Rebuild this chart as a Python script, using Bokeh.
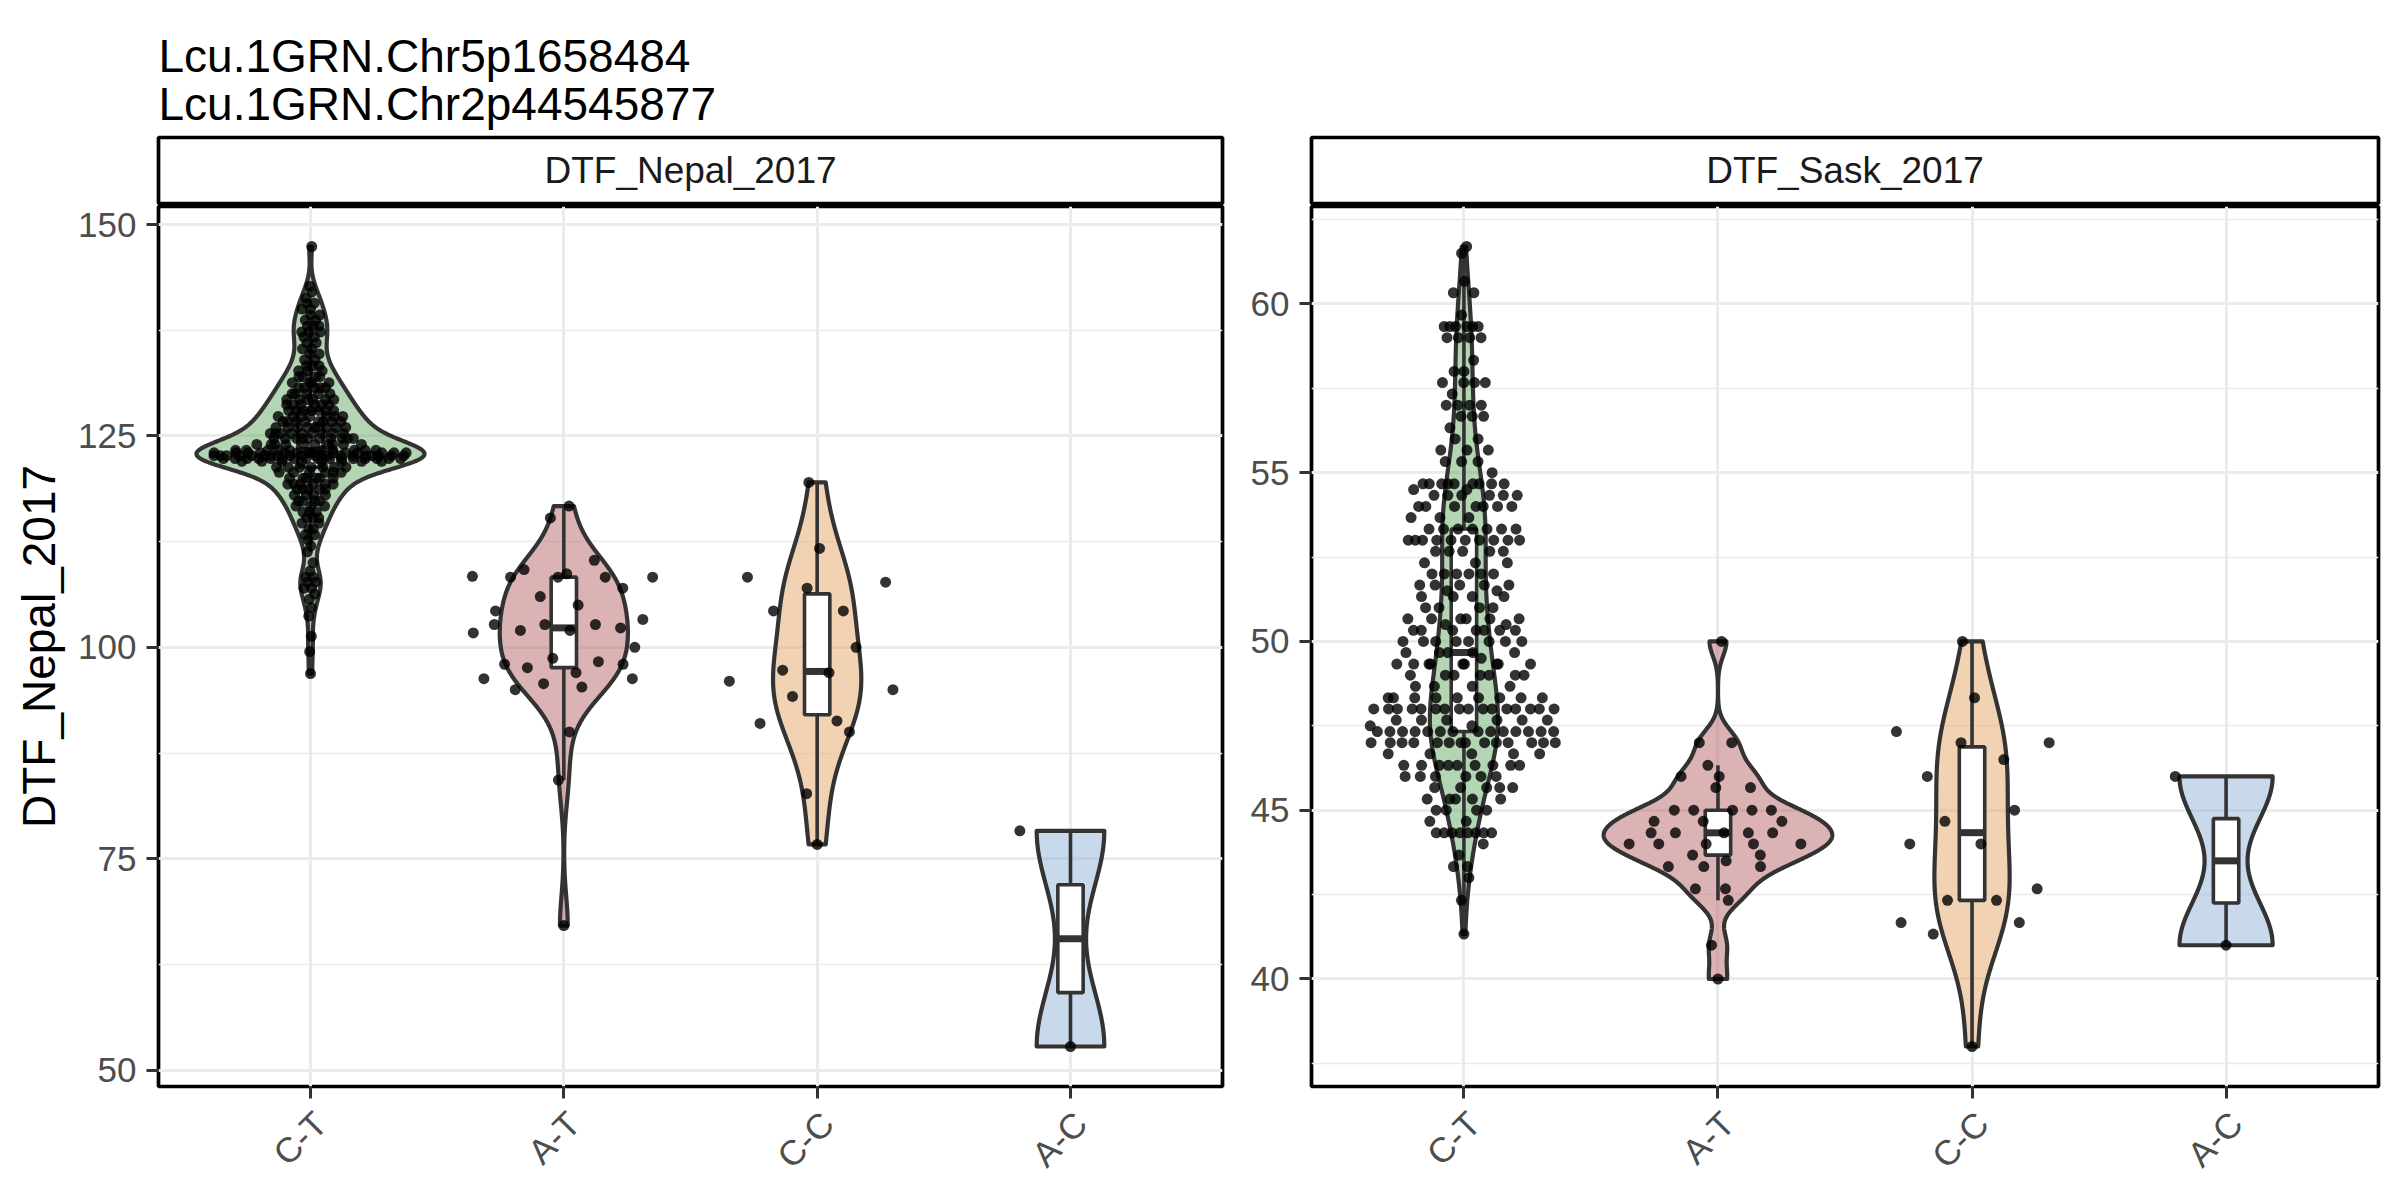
import numpy as np
from bokeh.plotting import figure
from bokeh.models import Range1d, FixedTicker, ColumnDataSource, LinearAxis, CustomJSTickFormatter
from bokeh.layouts import column, row
from bokeh.embed import file_html
from bokeh.resources import INLINE
from bokeh.core.properties import value

FONT = "Liberation Sans"

# ---------------- data ----------------
TITLE_LINES = ["Lcu.1GRN.Chr5p1658484", "Lcu.1GRN.Chr2p44545877"]
GENOTYPES = ["C-T", "A-T", "C-C", "A-C"]
FILL_COLORS = ["#69AB69", "#B76769", "#E3A565", "#8FB3D5"]
PANEL_NAMES = ["DTF_Nepal_2017", "DTF_Sask_2017"]
Y_LABEL = "DTF_Nepal_2017"

NEPAL_MAJOR = [50, 75, 100, 125, 150]
NEPAL_MINOR = [62.5, 87.5, 112.5, 137.5]
SASK_MAJOR = [40, 45, 50, 55, 60]
SASK_MINOR = [37.5, 42.5, 47.5, 52.5, 57.5, 62.5]

# Nepal 2017, C-T (value, count)
nepal_ct_values = [96.9, 99.5, 101.3, 103.7, 104.7, 105.7, 106.3, 107.0, 107.7, 108.3,
                   109.0, 110.0, 111.3, 112.0, 112.7, 113.3, 114.0, 114.7, 115.3, 116.0,
                   116.7, 117.3, 118.0, 118.7, 119.3, 120.0, 120.7, 121.3, 122.0, 122.33,
                   122.67, 123.0, 123.3, 124.0, 124.7, 125.3, 126.0, 126.7, 127.3, 128.0,
                   128.7, 129.3, 130.0, 130.7, 131.3, 132.0, 132.7, 133.3, 134.0, 134.7,
                   135.3, 136.0, 136.7, 137.3, 138.0, 138.7, 139.3, 140.0, 140.7, 141.3,
                   142.0, 142.7, 147.4]
nepal_ct_counts = [1, 1, 1, 1, 1, 1, 1, 2, 2, 2,
                   1, 1, 1, 1, 1, 2, 2, 2, 3, 3,
                   3, 4, 4, 5, 6, 6, 6, 7, 8, 16,
                   20, 14, 10, 10, 10, 9, 9, 8, 7, 7,
                   6, 6, 5, 5, 4, 4, 3, 3, 2, 2,
                   2, 2, 2, 3, 3, 2, 2, 2, 2, 1,
                   1, 1, 1]
nepal_at = [116.7, 115.3, 110.3, 109.2, 108.3, 108.3, 108.4, 108.7, 108.3, 108.3,
            107.0, 106.0, 105.0, 104.3, 103.3, 102.7, 102.7, 102.7, 102.0, 102.0,
            102.3, 101.7, 100.0, 98.7, 98.3, 98.0, 97.6, 98.0, 97.0, 96.3,
            96.3, 95.7, 95.0, 95.3, 90.0, 84.3, 67.1]
nepal_cc = [119.5, 111.7, 108.3, 107.7, 107.0, 104.3, 104.3, 100.0, 97.3, 97.0,
            96.0, 95.0, 94.2, 91.0, 91.3, 90.0, 82.7, 76.7]
nepal_ac = [78.3, 52.8]

# Sask 2017, C-T (value, count)
sask_ct_values = [61.7, 61.5, 60.67, 60.33, 59.67, 59.33, 59.0, 58.33, 58.0, 57.67,
                  57.33, 57.0, 56.67, 56.33, 56.0, 55.67, 55.33, 55.0, 54.67, 54.5,
                  54.33, 54.0, 53.67, 53.33, 53.0, 52.67, 52.33, 52.0, 51.67, 51.5,
                  51.33, 51.0, 50.67, 50.5, 50.33, 50.0, 49.67, 49.5, 49.33, 49.0,
                  48.67, 48.33, 48.0, 47.67, 47.5, 47.33, 47.0, 46.67, 46.33, 46.0,
                  45.67, 45.33, 45.0, 44.67, 44.33, 44.0, 43.67, 43.33, 43.0, 42.33, 41.33]
sask_ct_counts = [1, 1, 1, 2, 1, 6, 4, 1, 2, 4,
                  1, 4, 3, 1, 2, 3, 3, 1, 9, 2,
                  6, 7, 3, 7, 10, 5, 3, 6, 5, 2,
                  4, 4, 6, 2, 7, 8, 5, 1, 9, 7,
                  4, 9, 16, 6, 2, 14, 14, 5, 9, 6,
                  5, 5, 4, 2, 8, 1, 1, 2, 1, 1, 1]
sask_at = [50.0, 47.0, 47.0, 46.33, 46.0, 46.0, 45.67, 45.67, 45.0, 45.0,
           45.0, 45.0, 45.0, 44.67, 44.67, 44.67, 44.33, 44.33, 44.33, 44.33,
           44.33, 44.0, 44.0, 44.0, 44.0, 44.0, 43.67, 43.67, 43.5, 43.33,
           43.33, 43.33, 42.67, 42.67, 42.33, 41.0, 40.0]
sask_cc = [50.0, 48.33, 47.33, 47.0, 47.0, 46.5, 46.0, 45.0, 44.67, 44.0,
           44.0, 42.67, 42.33, 42.33, 41.67, 41.67, 41.33, 38.0]
sask_ac = [46.0, 41.0]


# ---------------- stats helpers ----------------
def nrd0(x):
    x = np.asarray(x, float)
    hi = np.std(x, ddof=1)
    q75, q25 = np.percentile(x, [75, 25])
    lo = min(hi, (q75 - q25) / 1.34)
    if not lo:
        lo = hi or abs(x[0]) or 1.0
    return 0.9 * lo * len(x) ** (-0.2)


def kde(x, grid, bw):
    z = (np.asarray(grid)[:, None] - np.asarray(x)[None, :]) / bw
    return np.exp(-0.5 * z * z).sum(1) / (len(x) * bw * np.sqrt(2 * np.pi))


def van_der_corput(n):
    out = []
    for i in range(1, n + 1):
        v, denom, k = 0.0, 1.0, i
        while k:
            denom *= 2.0
            v += (k % 2) / denom
            k //= 2
        out.append(v)
    return np.array(out)


def quasi_offsets(y, width=0.4, adjust=0.5):
    y = np.asarray(y, float)
    n = len(y)
    if n < 2:
        return np.zeros(n)
    bw = nrd0(y) * adjust
    grid = np.linspace(y.min() - 3 * bw, y.max() + 3 * bw, 1024)
    dmax = kde(y, grid, bw).max()
    d = kde(y, y, bw) / dmax
    rank = np.argsort(np.argsort(y, kind="stable"), kind="stable")
    off = van_der_corput(n)[rank]
    return (off - 0.5) * 2.0 * d * width


def box_stats(y):
    y = np.asarray(y, float)
    q1, med, q3 = np.percentile(y, [25, 50, 75])
    iqr = q3 - q1
    up = y[y <= q3 + 1.5 * iqr].max()
    lo = y[y >= q1 - 1.5 * iqr].min()
    return q1, med, q3, lo, up


# ---------------- layout constants ----------------
FRAME_H = 880
LEFT_W, RIGHT_W = 1064, 1067
L_BORDER_L, L_BORDER_R = 158, 15
R_BORDER_L, R_BORDER_R = 74, 14
TITLE_H = 135
LINE_COL = "#333333"
LABEL_SHIFT_PX = 10  # rotated labels hang with their top-right corner at the tick


def make_panel(groups, major, minor, frame_w, b_left, b_right, ylabel=None):
    allv = np.concatenate(groups)
    lo, hi = allv.min(), allv.max()
    pad = 0.05 * (hi - lo)
    p = figure(title=None, frame_width=frame_w, frame_height=FRAME_H,
               x_range=Range1d(0.4, 4.6), y_range=Range1d(lo - pad, hi + pad),
               min_border_left=b_left, min_border_right=b_right,
               min_border_top=1, min_border_bottom=106,
               output_backend="svg", toolbar_location=None)
    p.background_fill_color = "white"
    p.border_fill_color = "white"
    p.outline_line_color = "black"
    p.outline_line_width = 3.7

    yt = FixedTicker(ticks=major, minor_ticks=minor)
    p.yaxis.ticker = yt
    p.ygrid.ticker = yt
    xt = FixedTicker(ticks=[1, 2, 3, 4], minor_ticks=[])
    p.xaxis.ticker = xt
    p.xgrid.ticker = xt

    for g in (p.xgrid, p.ygrid):
        g.grid_line_color = "#EBEBEB"
        g.grid_line_width = 3
    p.ygrid.minor_grid_line_color = "#EBEBEB"
    p.ygrid.minor_grid_line_width = 1.6

    for ax in (p.xaxis, p.yaxis):
        ax.axis_line_color = None
        ax.major_tick_out = 12
        ax.major_tick_in = 0
        ax.major_tick_line_color = LINE_COL
        ax.major_tick_line_width = 3
        ax.minor_tick_line_color = None
        ax.minor_tick_out = 0
        ax.minor_tick_in = 0
        ax.major_label_text_font = FONT
        ax.major_label_text_font_size = "35px"
        ax.major_label_text_color = "#4D4D4D"
        ax.major_label_standoff = 10
    # default x axis: tick marks only
    p.xaxis.major_label_overrides = {i + 1: "" for i in range(len(GENOTYPES))}
    p.xaxis.major_label_text_font_size = "1px"
    p.xaxis.major_label_standoff = 0

    # second x axis: rotated genotype labels only
    shift = LABEL_SHIFT_PX * 4.2 / frame_w
    lab_axis = LinearAxis(
        ticker=FixedTicker(ticks=[i + 1 + shift for i in range(len(GENOTYPES))], minor_ticks=[]),
        formatter=CustomJSTickFormatter(args=dict(names=GENOTYPES),
                                        code="return names[Math.round(tick) - 1];"),
        axis_line_color=None, major_tick_line_color=None, minor_tick_line_color=None,
        major_tick_out=0, major_tick_in=0, minor_tick_out=0, minor_tick_in=0,
        major_label_orientation=np.pi / 4, major_label_standoff=19,
        major_label_text_font=FONT, major_label_text_font_size="35px",
        major_label_text_color="#4D4D4D")
    p.add_layout(lab_axis, "below")

    if ylabel:
        p.yaxis.axis_label = ylabel
        p.yaxis.axis_label_text_font = FONT
        p.yaxis.axis_label_text_font_size = "46px"
        p.yaxis.axis_label_text_font_style = "normal"
        p.yaxis.axis_label_text_color = "black"
        p.yaxis.axis_label_standoff = 10

    # violins (area scaled within panel)
    dens_list = []
    for y in groups:
        grid = np.linspace(min(y), max(y), 512)
        dens_list.append((grid, kde(y, grid, nrd0(y))))
    dmax = max(d.max() for _, d in dens_list)
    for i, (grid, d) in enumerate(dens_list):
        hw = d / dmax * 0.45
        xs = np.concatenate([(i + 1) - hw, ((i + 1) + hw)[::-1]])
        ys = np.concatenate([grid, grid[::-1]])
        p.patch(xs, ys, fill_color=FILL_COLORS[i], fill_alpha=0.5,
                line_color=LINE_COL, line_width=4.2, line_join="round")

    # boxplots
    bx, q1s, meds, q3s, los, ups = [], [], [], [], [], []
    for i, y in enumerate(groups):
        q1, med, q3, lo_w, up_w = box_stats(y)
        bx.append(i + 1); q1s.append(q1); meds.append(med); q3s.append(q3)
        los.append(lo_w); ups.append(up_w)
    src = ColumnDataSource(dict(x=bx, q1=q1s, med=meds, q3=q3s, lo=los, up=ups,
                                left=[v - 0.05 for v in bx], right=[v + 0.05 for v in bx]))
    p.segment(x0="x", y0="q3", x1="x", y1="up", source=src, line_color=LINE_COL, line_width=3.6)
    p.segment(x0="x", y0="q1", x1="x", y1="lo", source=src, line_color=LINE_COL, line_width=3.6)
    p.quad(left="left", right="right", bottom="q1", top="q3", source=src,
           fill_color="white", line_color=LINE_COL, line_width=3.6)
    p.segment(x0="left", y0="med", x1="right", y1="med", source=src,
              line_color=LINE_COL, line_width=7)

    # points (quasirandom)
    px, py = [], []
    for i, y in enumerate(groups):
        y = np.asarray(y, float)
        px.extend((i + 1) + quasi_offsets(y))
        py.extend(y)
    p.scatter(px, py, size=11, fill_color="black", fill_alpha=0.8, line_color=None)
    return p


def make_strip(name, frame_w, b_left, b_right):
    s = figure(title=None, frame_width=frame_w, frame_height=66,
               x_range=Range1d(0, 1), y_range=Range1d(0, 1),
               x_axis_type=None, y_axis_type=None,
               min_border_left=b_left, min_border_right=b_right,
               min_border_top=2, min_border_bottom=2,
               output_backend="svg", toolbar_location=None)
    s.outline_line_color = "black"
    s.outline_line_width = 3.7
    s.background_fill_color = "white"
    s.text(x=[0.5], y=[0.5], text=[name], text_align="center", text_baseline="middle",
           text_font=value(FONT), text_font_size="37px", text_color="#1A1A1A")
    return s


nepal_ct = list(np.repeat(nepal_ct_values, nepal_ct_counts))
sask_ct = list(np.repeat(sask_ct_values, sask_ct_counts))

nepal_groups = [np.array(nepal_ct), np.array(nepal_at), np.array(nepal_cc), np.array(nepal_ac)]
sask_groups = [np.array(sask_ct), np.array(sask_at), np.array(sask_cc), np.array(sask_ac)]

p_left = make_panel(nepal_groups, NEPAL_MAJOR, NEPAL_MINOR, LEFT_W, L_BORDER_L, L_BORDER_R, Y_LABEL)
p_right = make_panel(sask_groups, SASK_MAJOR, SASK_MINOR, RIGHT_W, R_BORDER_L, R_BORDER_R)
s_left = make_strip(PANEL_NAMES[0], LEFT_W, L_BORDER_L, L_BORDER_R)
s_right = make_strip(PANEL_NAMES[1], RIGHT_W, R_BORDER_L, R_BORDER_R)

TOTAL_W = L_BORDER_L + LEFT_W + L_BORDER_R + R_BORDER_L + RIGHT_W + R_BORDER_R
t = figure(title=None, frame_width=TOTAL_W, frame_height=TITLE_H,
           x_range=Range1d(0, TOTAL_W), y_range=Range1d(0, TITLE_H),
           x_axis_type=None, y_axis_type=None, min_border=0,
           output_backend="svg", toolbar_location=None)
t.outline_line_color = None
t.text(x=[L_BORDER_L, L_BORDER_L], y=[TITLE_H - 55, TITLE_H - 103], text=TITLE_LINES,
       text_align="left", text_baseline="alphabetic",
       text_font=value(FONT), text_font_size="46px", text_color="black")

layout = column(t, row(column(s_left, p_left), column(s_right, p_right)))

open("out.html", "w").write(file_html(layout, INLINE))
